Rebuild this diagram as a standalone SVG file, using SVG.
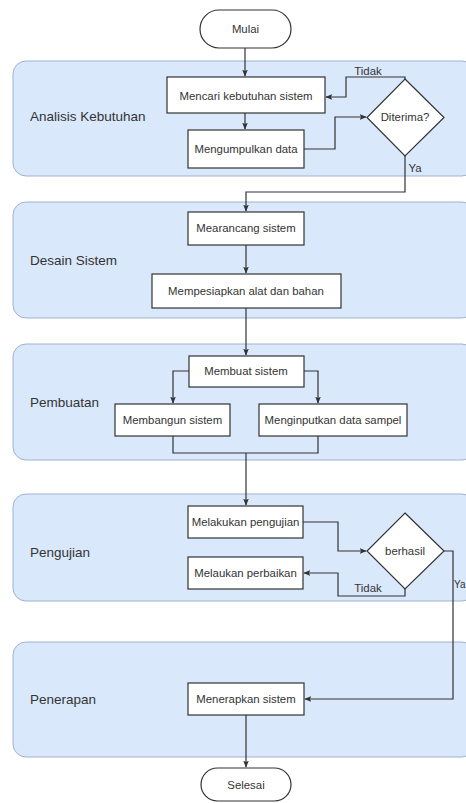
<svg xmlns="http://www.w3.org/2000/svg" width="466" height="803" viewBox="0 0 466 803">
<style>
.lane{fill:#dae8fc;stroke:#9fb3cc;stroke-width:1}
.box{fill:#fff;stroke:#333;stroke-width:1.2}
.t{font-family:"Liberation Sans",Arial,sans-serif;font-size:11.4px;fill:#333;text-anchor:middle;dominant-baseline:central}
.lt{font-family:"Liberation Sans",Arial,sans-serif;font-size:13.5px;fill:#333;dominant-baseline:central}
.c{fill:none;stroke:#333;stroke-width:1.2}
</style>
<defs>
<marker id="a" viewBox="0 0 10 10" refX="9" refY="5" markerWidth="7" markerHeight="7" markerUnits="userSpaceOnUse" orient="auto">
<path d="M0,1 L10,5 L0,9 L2,5 Z" fill="#333"/>
</marker>
</defs>
<g id="lanes">
<g id="lane1"><rect class="lane" x="13" y="61" width="462" height="115" rx="13"/><text class="lt" x="30" y="116">Analisis Kebutuhan</text></g>
<g id="lane2"><rect class="lane" x="13" y="202" width="462" height="116" rx="13"/><text class="lt" x="30" y="260">Desain Sistem</text></g>
<g id="lane3"><rect class="lane" x="13" y="344" width="462" height="116" rx="13"/><text class="lt" x="30" y="402">Pembuatan</text></g>
<g id="lane4"><rect class="lane" x="13" y="494" width="462" height="107" rx="13"/><text class="lt" x="30" y="552">Pengujian</text></g>
<g id="lane5"><rect class="lane" x="13" y="642" width="462" height="115" rx="13"/><text class="lt" x="30" y="699">Penerapan</text></g>
</g>
<g id="connectors">
<path class="c" d="M245,48 V76" marker-end="url(#a)"/>
<path class="c" d="M245,113 V129" marker-end="url(#a)"/>
<path class="c" d="M304,149 H335 V117 H366" marker-end="url(#a)"/>
<path class="c" d="M405,79 V77 H346 V97 H326" marker-end="url(#a)"/>
<text class="t" x="368" y="71">Tidak</text>
<path class="c" d="M405,156 V192 H246 V211" marker-end="url(#a)"/>
<text class="t" x="415" y="168">Ya</text>
<path class="c" d="M246,245 V273" marker-end="url(#a)"/>
<path class="c" d="M246,308 V355" marker-end="url(#a)"/>
<path class="c" d="M189,371 H173 V403" marker-end="url(#a)"/>
<path class="c" d="M304,371 H318 V403" marker-end="url(#a)"/>
<path class="c" d="M173,436 V453 H318 V436"/>
<path class="c" d="M246,453 V505" marker-end="url(#a)"/>
<path class="c" d="M303,522 H338 V551 H366" marker-end="url(#a)"/>
<path class="c" d="M405,589 V596 H338 V573 H304" marker-end="url(#a)"/>
<text class="t" x="368" y="588">Tidak</text>
<path class="c" d="M444,551 H453 V699 H305" marker-end="url(#a)"/>
<text class="t" x="465.5" y="584" style="text-anchor:end;font-size:10px">Ya</text>
<path class="c" d="M246,715 V767" marker-end="url(#a)"/>
</g>
<g id="mulai"><rect class="box" x="200" y="10" width="91" height="38" rx="19"/><text class="t" x="245.5" y="29">Mulai</text></g>
<g id="mencari"><rect class="box" x="167" y="77" width="158" height="36"/><text class="t" x="246" y="96">Mencari kebutuhan sistem</text></g>
<g id="mengumpulkan"><rect class="box" x="188" y="130" width="116" height="38"/><text class="t" x="246" y="149">Mengumpulkan data</text></g>
<g id="diterima"><path class="box" d="M405,79 L444,117.5 L405,156 L367,117.5 Z"/><text class="t" x="405" y="117">Diterima?</text></g>
<g id="mearancang"><rect class="box" x="188" y="212" width="116" height="33"/><text class="t" x="246" y="228">Mearancang sistem</text></g>
<g id="mempesiapkan"><rect class="box" x="152" y="274" width="189" height="34"/><text class="t" x="246" y="291">Mempesiapkan alat dan bahan</text></g>
<g id="membuat"><rect class="box" x="189" y="356" width="115" height="31"/><text class="t" x="246" y="371">Membuat sistem</text></g>
<g id="membangun"><rect class="box" x="115" y="404" width="115" height="32"/><text class="t" x="172.5" y="420">Membangun sistem</text></g>
<g id="menginputkan"><rect class="box" x="259" y="404" width="148" height="32"/><text class="t" x="333" y="420">Menginputkan data sampel</text></g>
<g id="melakukan"><rect class="box" x="188" y="506" width="115" height="32"/><text class="t" x="245.5" y="522">Melakukan pengujian</text></g>
<g id="melaukan"><rect class="box" x="188" y="557" width="115" height="32"/><text class="t" x="245.5" y="573">Melaukan perbaikan</text></g>
<g id="berhasil"><path class="box" d="M405,513 L444,551 L405,589 L367,551 Z"/><text class="t" x="405" y="551">berhasil</text></g>
<g id="menerapkan"><rect class="box" x="188" y="683" width="116" height="32"/><text class="t" x="246" y="699">Menerapkan sistem</text></g>
<g id="selesai"><rect class="box" x="201" y="768" width="90" height="33" rx="16.5"/><text class="t" x="246" y="784.5">Selesai</text></g>
</svg>
